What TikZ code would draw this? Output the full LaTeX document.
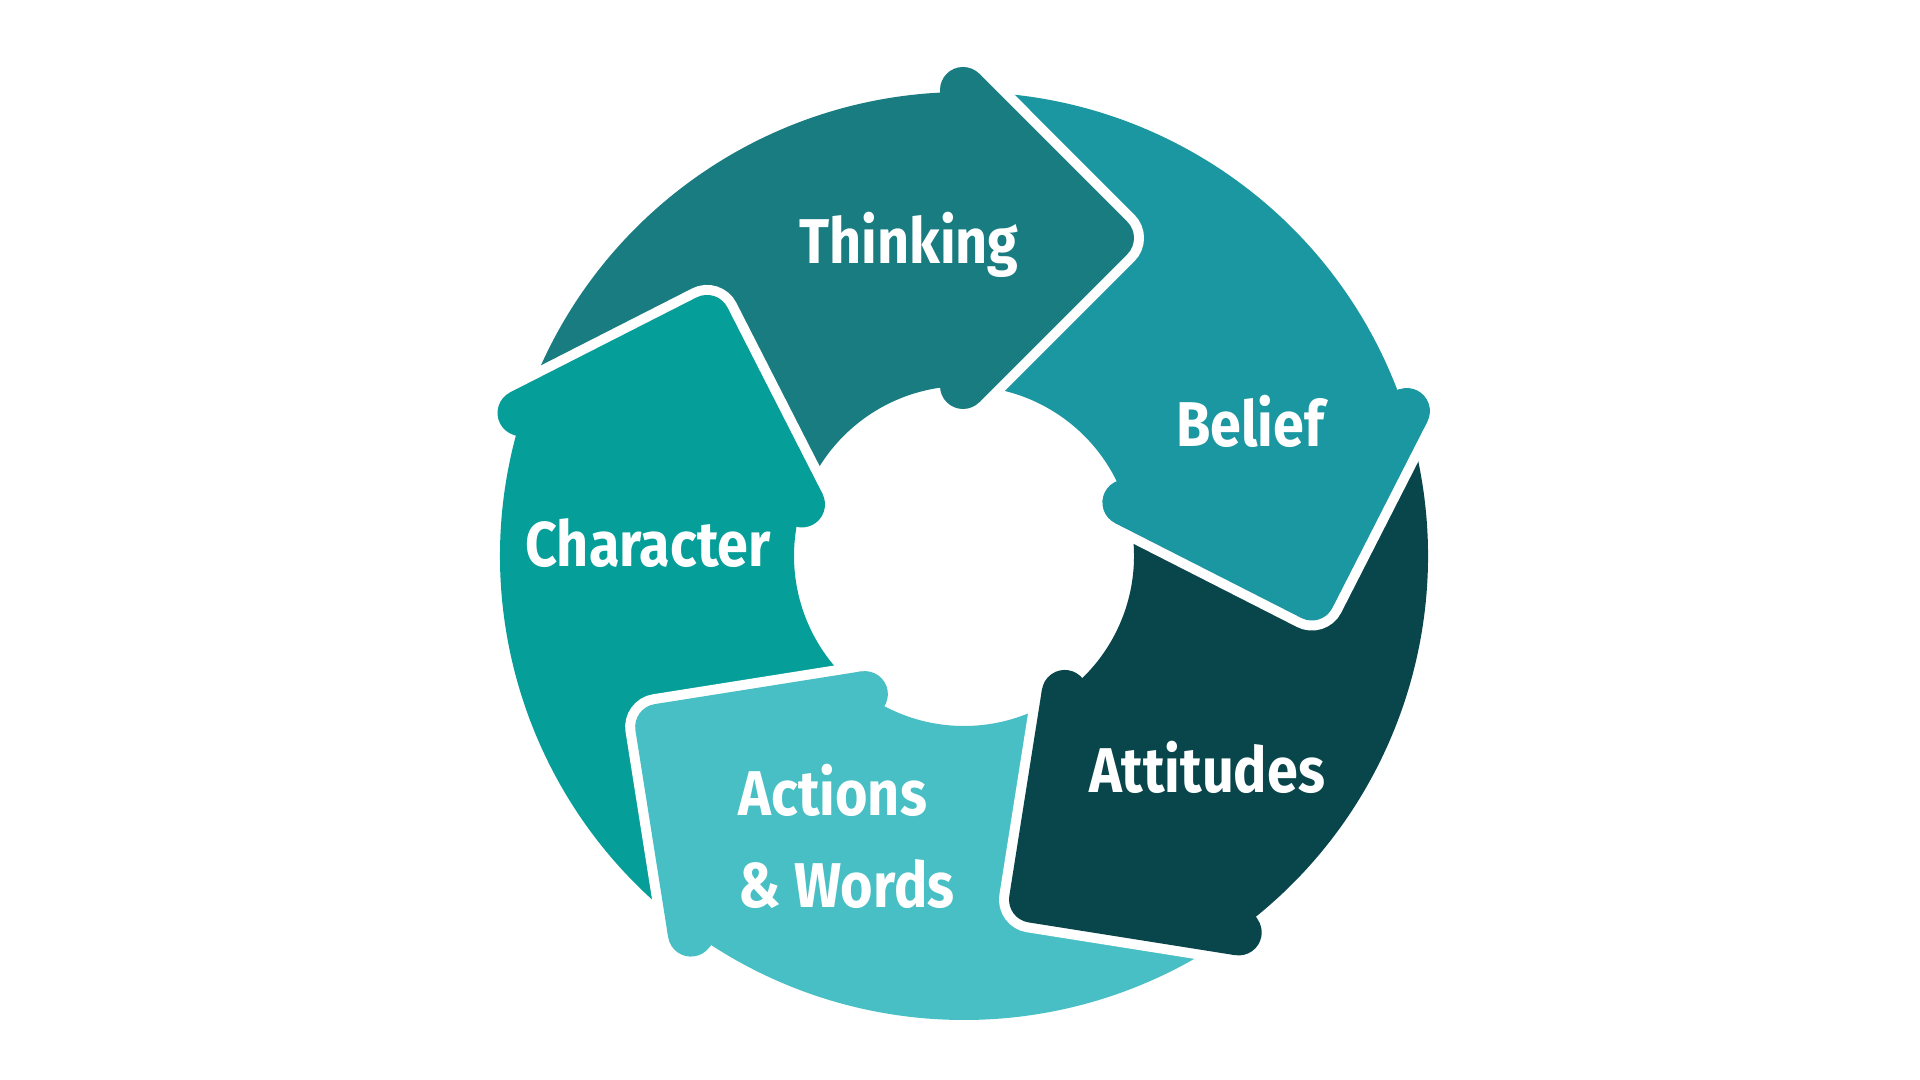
\documentclass[tikz,border=0pt]{standalone}
\usepackage{fontspec}
\usepackage{graphicx}
\newfontfamily\lblfont{Fira Sans}
\newcommand{\nar}[1]{\scalebox{0.88}[1]{#1}}
\definecolor{thinkc}{HTML}{187C80}
\definecolor{beliefc}{HTML}{1A97A1}
\definecolor{attitc}{HTML}{09464B}
\definecolor{actc}{HTML}{47BFC4}
\definecolor{charc}{HTML}{059E99}
\begin{document}
\begin{tikzpicture}[
  lbl/.style={text=white, inner sep=0pt, font=\lblfont\bfseries\fontsize{18}{26}\selectfont},
  edge/.style={white, line width=0.2cm, rounded corners=0.23cm},
  headfill/.style={rounded corners=0.23cm}]
\useasboundingbox (0,0) rectangle (19.2,10.8);
\fill[white] (0,0) rectangle (19.2,10.8);
\coordinate (ctr) at (9.64,5.24);
% ring pieces
\foreach \ang/\col in {90/thinkc, 18/beliefc, -54/attitc, -126/actc, -198/charc}{
  \begin{scope}[shift={(ctr)}, rotate=\ang-90]
    \fill[\col] (162:4.64) arc[start angle=162, end angle=90, radius=4.64]
      -- (90:1.70) arc[start angle=90, end angle=162, radius=1.70] -- cycle;
  \end{scope}
}
% arrow heads
\foreach \ang/\col in {90/thinkc, 18/beliefc, -54/attitc, -126/actc, -198/charc}{
  \begin{scope}[shift={(ctr)}, rotate=\ang-90]
    \draw[edge] (0.153,1.537) -- (1.795,3.18) -- (0.153,4.823);
    \fill[\col] (-0.01,4.66) circle[radius=0.23] (-0.01,1.70) circle[radius=0.23];
    \fill[\col, headfill] (-0.24,1.70) [sharp corners] -- (0.153,1.537) [rounded corners=0.23cm] -- (1.795,3.18)
      [sharp corners] -- (0.153,4.823) -- (-0.24,4.66) -- cycle;
  \end{scope}
}
\node[lbl, anchor=base] (think) at (9.09,8.16) {\nar{Thinking}};
\node[lbl, anchor=base] (belief) at (12.50,6.33) {\nar{Belief}};
\node[lbl, anchor=base] (attit) at (12.07,2.87) {\nar{Attitudes}};
\node[lbl, anchor=west, align=left] (act) at (7.38,2.435) {\nar{Actions}\\\nar{\& Words}};
\node[lbl, anchor=base] (char) at (6.48,5.13) {\nar{Character}};
\end{tikzpicture}
\end{document}
